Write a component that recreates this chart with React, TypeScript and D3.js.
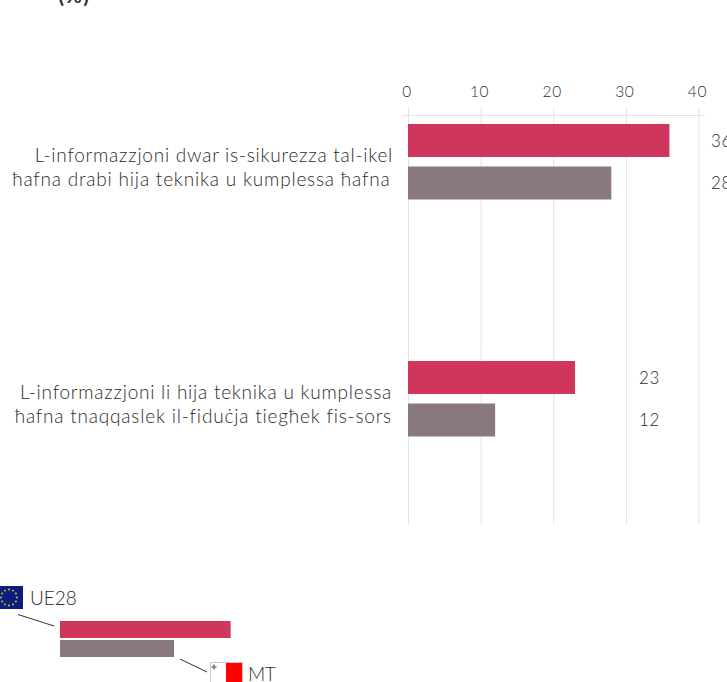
import React from "react";
import * as d3 from "d3";

const categories = [
  ["L-informazzjoni dwar is-sikurezza tal-ikel", "ħafna drabi hija teknika u kumplessa ħafna"],
  ["L-informazzjoni li hija teknika u kumplessa", "ħafna tnaqqaslek il-fiduċja tiegħek fis-sors"],
];
const seriesUE28 = [36, 23];
const seriesMT = [28, 12];
const ticks = [0, 10, 20, 30, 40];
const legendLabels = ["UE28", "MT"];
const legendValues = [23.5, 15.7];
const unitLabel = "(%)";

const RED = "#d0365b";
const GREY = "#8a797c";
const TEXT = "#2c2c2c";
const FONT = "Lato, 'Noto Sans', sans-serif";

const x = d3.scaleLinear().domain([0, 40]).range([408, 698.5]);
const rowY = d3.scaleOrdinal<number, number>().domain([0, 1]).range([124, 361]);
const starAngles = d3.range(12).map((i) => (i * Math.PI) / 6);
const valueX = [711, 639];

export default function App() {
  return (
    <svg
      width={727}
      height={682}
      viewBox="0 0 727 682"
      style={{ position: "absolute", left: 0, top: 0, background: "#fff", fontFamily: FONT }}
    >
      <text x={74.5} y={3} textAnchor="middle" fontSize={20} fontWeight={700} letterSpacing={1.5} fill={TEXT}>
        {unitLabel}
      </text>

      {ticks.map((t) => (
        <g key={t}>
          <line x1={x(t) + 0.5} x2={x(t) + 0.5} y1={108} y2={524} stroke="#e2e2e2" strokeWidth={1} />
          <text x={x(t) - 1} y={97} textAnchor="middle" fontSize={15.5} fontWeight={300} letterSpacing={0.7} fill={TEXT}>
            {t}
          </text>
        </g>
      ))}
      <line x1={402} x2={705} y1={115.5} y2={115.5} stroke="#e2e2e2" strokeWidth={1} />

      {categories.map((lines, i) => {
        const y0 = rowY(i);
        return (
          <g key={i}>
            <rect x={x(0)} y={y0} width={x(seriesUE28[i]) - x(0)} height={33} fill={RED} />
            <rect x={x(0)} y={y0 + 42.5} width={x(seriesMT[i]) - x(0)} height={33} fill={GREY} />
            <text x={valueX[i]} y={y0 + 23} fontSize={17} fontWeight={300} letterSpacing={0.7} fill={TEXT}>
              {seriesUE28[i]}
            </text>
            <text x={valueX[i]} y={y0 + 65} fontSize={17} fontWeight={300} letterSpacing={0.7} fill={TEXT}>
              {seriesMT[i]}
            </text>
            {lines.map((l, j) => (
              <text
                key={j}
                x={i === 0 ? 393 - j * 2.5 : 392}
                y={y0 + 37.5 + j * 24.5}
                textAnchor="end"
                fontSize={19}
                fontWeight={300}
                letterSpacing={j === 0 ? 0.75 : 0.8}
                fill={TEXT}
              >
                {l}
              </text>
            ))}
          </g>
        );
      })}

      {/* legend */}
      <rect x={-12} y={586} width={35} height={23} fill="#0b1f7a" />
      {starAngles.map((a, i) => (
        <circle key={i} cx={9 + 8 * Math.sin(a)} cy={597.5 + 8 * Math.cos(a)} r={0.9} fill="#e7d23a" />
      ))}
      <text x={30} y={605} fontSize={19} fontWeight={300} letterSpacing={0} fill={TEXT}>
        {legendLabels[0]}
      </text>
      <line x1={18} y1={614.5} x2={54} y2={626} stroke="#333" strokeWidth={1} />
      <rect x={60} y={621} width={x(legendValues[0]) - x(0)} height={17} fill={RED} />
      <rect x={60} y={640} width={x(legendValues[1]) - x(0)} height={17} fill={GREY} />
      <line x1={180} y1={659} x2={207} y2={672} stroke="#333" strokeWidth={1} />
      <rect x={210.5} y={662.5} width={32} height={24} fill="#fff" stroke="#d9c4c4" strokeWidth={1} />
      <rect x={226} y={663} width={16} height={20} fill="#ff0000" />
      <path d="M214 664.5v5M211.5 667h5" stroke="#777" strokeWidth={1.6} />
      <text x={248} y={681} fontSize={19} fontWeight={300} letterSpacing={-0.5} fill={TEXT}>
        {legendLabels[1]}
      </text>
    </svg>
  );
}
